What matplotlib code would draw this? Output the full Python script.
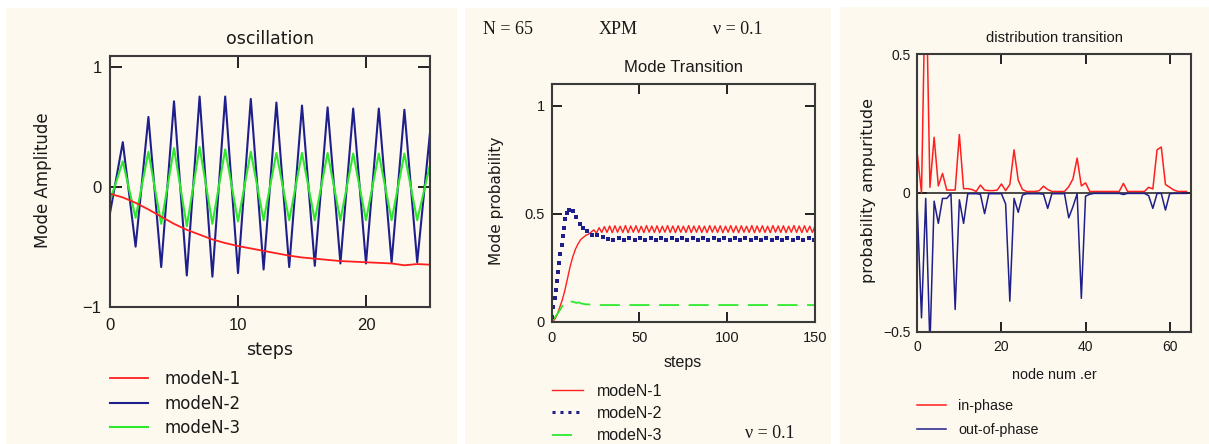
import numpy as np
import matplotlib
matplotlib.use("Agg")
import matplotlib.pyplot as plt
from matplotlib import font_manager
from matplotlib.patches import Rectangle
from matplotlib.lines import Line2D

# ---------------- data ----------------
# panel 1: oscillation
osc_steps = list(range(26))
osc_mode1 = [-0.06, -0.09, -0.135, -0.19, -0.25, -0.31, -0.36, -0.40, -0.44, -0.47,
             -0.495, -0.515, -0.535, -0.555, -0.575, -0.59, -0.60, -0.61, -0.62, -0.625,
             -0.63, -0.635, -0.64, -0.655, -0.645, -0.65]
osc_mode2 = [-0.22, 0.37, -0.50, 0.58, -0.67, 0.71, -0.74, 0.75, -0.75, 0.75,
             -0.72, 0.73, -0.69, 0.70, -0.67, 0.675, -0.66, 0.66, -0.64, 0.65,
             -0.64, 0.65, -0.63, 0.64, -0.63, 0.45]
osc_mode3 = [-0.12, 0.21, -0.26, 0.29, -0.31, 0.32, -0.33, 0.33, -0.31, 0.31,
             -0.29, 0.29, -0.28, 0.28, -0.28, 0.28, -0.28, 0.28, -0.28, 0.275,
             -0.28, 0.275, -0.28, 0.275, -0.28, 0.18]
osc_xticks = [0, 10, 20]
osc_xticklabels = ["0", "10", "20"]
osc_yticks = [-1, 0, 1]
osc_yticklabels = ["\u22121", "0", "1"]

# panel 2: mode transition
trans_steps = np.arange(0, 150.01, 1.5)
trans_mode1 = [0.000, 0.008, 0.030, 0.065, 0.100, 0.145, 0.200, 0.255, 0.300, 0.335,
               0.360, 0.380, 0.390, 0.400, 0.405, 0.415, 0.425, 0.410, 0.435, 0.413,
               0.440,
               0.413, 0.443, 0.412, 0.444, 0.414, 0.442, 0.413, 0.445, 0.412, 0.443,
               0.414, 0.444, 0.413, 0.442, 0.412, 0.445, 0.414, 0.443, 0.413, 0.444,
               0.412, 0.442, 0.414, 0.445, 0.413, 0.443, 0.412, 0.444, 0.414, 0.442,
               0.413, 0.445, 0.412, 0.443, 0.414, 0.444, 0.413, 0.442, 0.412, 0.445,
               0.414, 0.443, 0.413, 0.444, 0.412, 0.442, 0.414, 0.445, 0.413, 0.443,
               0.412, 0.444, 0.414, 0.442, 0.413, 0.445, 0.412, 0.443, 0.414, 0.444,
               0.413, 0.442, 0.412, 0.445, 0.414, 0.443, 0.413, 0.444, 0.412, 0.442,
               0.414, 0.445, 0.413, 0.443, 0.412, 0.444, 0.414, 0.442, 0.413, 0.443]
mode2_steps = [0.2, 0.9, 1.7, 2.5, 3.1, 3.7, 4.3, 4.9, 5.6, 6.3, 7.0, 7.8, 8.7, 10.0,
               12.3, 13.7, 16.1, 18.0, 19.9, 22.8, 25.6, 29.4, 32.3, 35.1,
               38.3, 41.3, 44.3, 47.3, 50.3, 53.3, 56.3, 59.3, 62.3, 65.3, 68.3, 71.3,
               74.3, 77.3, 80.3, 83.3, 86.3, 89.3, 92.3, 95.3, 98.3, 101.3, 104.3, 107.3,
               110.3, 113.3, 116.3, 119.3, 122.3, 125.3, 128.3, 131.3, 134.3, 137.3,
               140.3, 143.3, 146.3, 149.3]
trans_mode2 = [0.02, 0.066, 0.108, 0.149, 0.189, 0.231, 0.272, 0.312, 0.354, 0.395,
               0.435, 0.477, 0.505, 0.518, 0.512, 0.485, 0.454, 0.434, 0.42, 0.403,
               0.403, 0.392, 0.382, 0.380,
               0.388, 0.380, 0.388, 0.380, 0.388, 0.380, 0.388, 0.380, 0.388, 0.380,
               0.388, 0.380, 0.388, 0.380, 0.388, 0.380, 0.388, 0.380, 0.388, 0.380,
               0.388, 0.380, 0.388, 0.380, 0.388, 0.380, 0.388, 0.380, 0.388, 0.380,
               0.388, 0.380, 0.388, 0.380, 0.388, 0.380, 0.388, 0.380]
mode3_steps = [0, 2, 4, 6, 7.5, 9, 10.5, 12.3, 14, 15.5, 17, 19, 21, 23, 26, 150]
trans_mode3 = [0.0, 0.022, 0.045, 0.072, 0.090, 0.095, 0.094, 0.092, 0.087, 0.089,
               0.084, 0.081, 0.080, 0.078, 0.077, 0.077]
trans_xticks = [0, 50, 100, 150]
trans_xticklabels = ["0", "50", "100", "150"]
trans_yticks = [0, 0.5, 1]
trans_yticklabels = ["0", "0.5", "1"]

# panel 3: distribution transition
nodes = np.arange(65)
in_phase = [0.14, 0.0, 0.85, 0.02, 0.20, 0.025, 0.07, 0.01, 0.01, 0.01,
            0.21, 0.015, 0.015, 0.012, 0.005, 0.028, 0.01, 0.008, 0.008, 0.01,
            0.032, 0.008, 0.03, 0.155, 0.045, 0.012, 0.005, 0.005, 0.005, 0.008,
            0.024, 0.012, 0.005, 0.005, 0.005, 0.005, 0.022, 0.05, 0.125, 0.025,
            0.036, 0.005, 0.005, 0.005, 0.005, 0.005, 0.005, 0.005, 0.005, 0.034,
            0.005, 0.005, 0.005, 0.005, 0.005, 0.02, 0.014, 0.155, 0.165, 0.03,
            0.02, 0.01, 0.005, 0.005, 0.005]
out_phase = [-0.06, -0.45, -0.02, -0.55, -0.03, -0.11, -0.02, -0.02, -0.003, -0.42,
             -0.025, -0.11, -0.003, -0.003, -0.003, -0.005, -0.075, -0.003, -0.003, -0.003,
             -0.003, -0.04, -0.39, -0.02, -0.07, -0.008, -0.003, -0.003, -0.003, -0.003,
             -0.005, -0.056, -0.003, -0.003, -0.003, -0.003, -0.09, -0.05, -0.003, -0.38,
             -0.012, -0.005, -0.002, -0.002, -0.002, -0.002, -0.002, -0.002, -0.002, -0.006,
             -0.002, -0.002, -0.002, -0.002, -0.002, -0.01, -0.056, -0.002, -0.002, -0.062,
             -0.003, -0.002, -0.002, -0.002, -0.002]
dist_xticks = [0, 20, 40, 60]
dist_xticklabels = ["0", "20", "40", "60"]
dist_yticks = [-0.5, 0, 0.5]
dist_yticklabels = ["\u22120.5", "0", "0.5"]

# ---------------- style ----------------
W, H = 1209, 444
BG = "#fdf9ee"
RED = "#ff1f1f"
BLUE = "#1f1f8c"
GREEN = "#2ee82e"
SPINE = "#3a3a3a"
TXT = "#1a1a1a"

names = {f.name for f in font_manager.fontManager.ttflist}
if "Liberation Sans Narrow" in names:
    NARROW, NS = "Liberation Sans Narrow", 1.15
else:
    NARROW, NS = "Liberation Sans", 1.0
SANS = "Liberation Sans"
WIDE = "DejaVu Sans"
SERIF = "Liberation Serif"

fig = plt.figure(figsize=(W / 100, H / 100), dpi=100)
fig.patch.set_facecolor("white")


def frect(x0, y0, x1, y1):
    return [x0 / W, 1 - y1 / H, (x1 - x0) / W, (y1 - y0) / H]


def ftext(x, y, s, **kw):
    kw.setdefault("color", TXT)
    kw.setdefault("ha", "center")
    kw.setdefault("va", "center")
    fig.text(x / W, 1 - y / H, s, **kw)


for (x0, y0, x1, y1) in [(6, 8, 457, 444), (465, 8, 831, 444), (840, 7, 1209, 444)]:
    fig.add_artist(Rectangle((x0 / W, 1 - y1 / H), (x1 - x0) / W, (y1 - y0) / H,
                             transform=fig.transFigure, facecolor=BG, edgecolor="none",
                             zorder=0))


def style_axes(ax, xt, xtl, yt, ytl, family, size, tlen, xpad, ypad):
    ax.set_facecolor(BG)
    for sp in ax.spines.values():
        sp.set_color(SPINE)
        sp.set_linewidth(1.5)
    ax.set_xticks(xt, labels=xtl)
    ax.set_yticks(yt, labels=ytl)
    ax.tick_params(direction="in", length=tlen, width=1.4, color="#222222",
                   top=True, right=True, labelcolor=TXT, labelsize=size)
    ax.tick_params(axis="x", pad=xpad)
    ax.tick_params(axis="y", pad=ypad)
    for lab in ax.get_xticklabels() + ax.get_yticklabels():
        lab.set_fontfamily(family)


def put_legend(ax, handles, labels, x, y1, fs, family, hl_px, pad_px, row_px,
               hfac, yfac):
    fs_px = fs * 100 / 72
    leg = ax.legend(handles, labels, loc="upper left",
                    bbox_to_anchor=(x / W, 1 - (y1 - yfac * fs_px) / H),
                    bbox_transform=fig.transFigure, frameon=False, borderpad=0,
                    borderaxespad=0, handlelength=hl_px / fs_px,
                    handletextpad=pad_px / fs_px,
                    labelspacing=(row_px - hfac * fs_px) / fs_px,
                    prop={"family": family, "size": fs})
    for t in leg.get_texts():
        t.set_color(TXT)
    return leg


# ---------------- panel 1 ----------------
ax1 = fig.add_axes(frect(110, 55.7, 430, 306.7))
l2, = ax1.plot(osc_steps, osc_mode2, color=BLUE, lw=1.5)
l3, = ax1.plot(osc_steps, osc_mode3, color=GREEN, lw=1.5)
l1, = ax1.plot(osc_steps, osc_mode1, color=RED, lw=1.3)
ax1.set_xlim(0, 25)
ax1.set_ylim(-1, 1.09)
style_axes(ax1, osc_xticks, osc_xticklabels, osc_yticks, osc_yticklabels,
           SANS, 12, 8.5, 8, 6)
ftext(270, 39, "oscillation", family=WIDE, size=12.5)
ftext(270, 350, "steps", family=WIDE, size=12.5)
ftext(43, 180, "Mode Amplitude", family=WIDE, size=12, rotation=90)
put_legend(ax1, [l1, l2, l3], ["modeN-1", "modeN-2", "modeN-3"],
           110, 378, 12, WIDE, 38, 17, 24, 1.05, 0.48)

# ---------------- panel 2 ----------------
ax2 = fig.add_axes(frect(551.7, 84, 815, 321.7))
m1, = ax2.plot(trans_steps, trans_mode1, color=RED, lw=1.0)
ax2.plot(mode3_steps, trans_mode3, color=GREEN, lw=1.3, dashes=(11.1, 5.3))
ax2.plot(mode2_steps, trans_mode2, color=BLUE, ls="none", marker="s",
         ms=2.4, mew=0)
m2 = Line2D([], [], color=BLUE, lw=2.2, dashes=(1.0, 1.6))
m3 = Line2D([], [], color=GREEN, lw=1.3, dashes=(11.1, 20))
ax2.set_xlim(0, 150)
ax2.set_ylim(0, 1.1)
style_axes(ax2, trans_xticks, trans_xticklabels, trans_yticks, trans_yticklabels,
           NARROW, 10.5 * NS, 7, 7, 5)
ftext(683, 68, "Mode Transition", family=NARROW, size=12 * NS)
ftext(683, 362, "steps", family=NARROW, size=11.5 * NS)
ftext(496, 201, "Mode probability", family=WIDE, size=11, rotation=90)
put_legend(ax2, [m1, m2, m3], ["modeN-1", "modeN-2", "modeN-3"],
           551.7, 389, 11.5 * NS, NARROW, 31.3, 14, 23, 0.98, 0.33)
ftext(508, 30, "N = 65", family=SERIF, size=13)
ftext(618, 30, "XPM", family=SERIF, size=13)
ftext(738, 30, "\u03bd = 0.1", family=SERIF, size=13)
ftext(770, 433, "\u03bd = 0.1", family=SERIF, size=13)

# ---------------- panel 3 ----------------
ax3 = fig.add_axes(frect(917.3, 54, 1190.7, 331.7))
ax3.axhline(0, color="#2a2a2a", lw=1.2, zorder=1.5)
p1, = ax3.plot(nodes, in_phase, color=RED, lw=1.1, zorder=2)
p2, = ax3.plot(nodes, out_phase, color=BLUE, lw=1.1, zorder=2.1)
ax3.set_xlim(0, 65)
ax3.set_ylim(-0.5, 0.5)
style_axes(ax3, dist_xticks, dist_xticklabels, dist_yticks, dist_yticklabels,
           NARROW, 10 * NS, 7, 6, 5)
ftext(1054, 38, "distribution transition", family=NARROW, size=10.7 * NS)
ftext(1054, 375, "node num .er", family=NARROW, size=10.4 * NS)
ftext(868, 190, "probability ampuritude", family=WIDE, size=11.5, rotation=90)
put_legend(ax3, [p1, p2], ["in-phase", "out-of-phase"],
           917.3, 404, 10.3 * NS, NARROW, 29, 12, 24, 0.98, 0.33)

fig.savefig("out.png", dpi=100, facecolor="white")
